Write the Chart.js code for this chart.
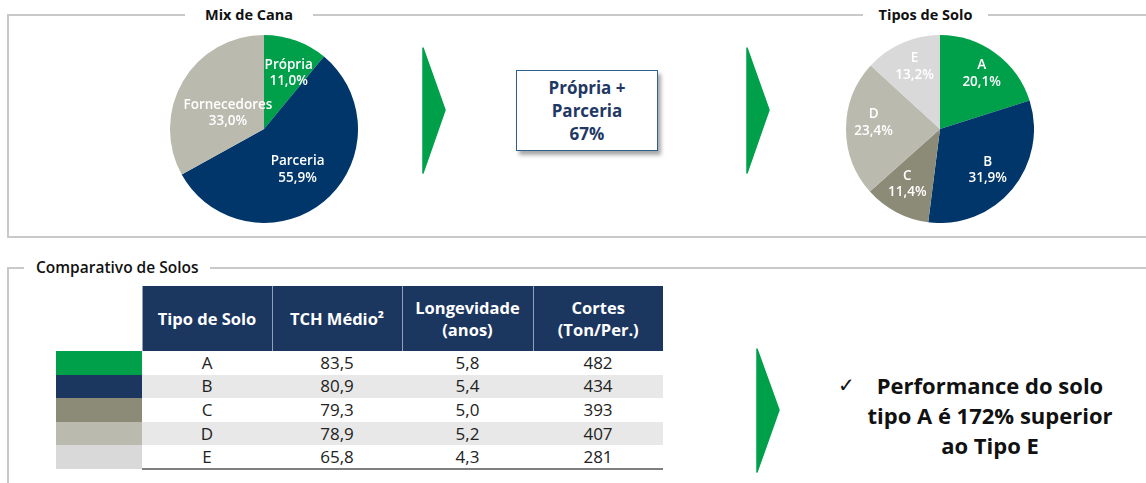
<!DOCTYPE html>
<html><head><meta charset="utf-8">
<script src="https://cdn.jsdelivr.net/npm/chart.js@4/dist/chart.umd.min.js"></script>
<style>
html,body{margin:0;padding:0}
body{width:1146px;height:483px;overflow:hidden;background:#fff;font-family:"Open Sans",sans-serif;position:relative}
.frame{position:absolute;border:2px solid #C9C9C9;box-sizing:border-box}
.ftitle{position:absolute;background:#fff;text-align:center;font-weight:bold;font-size:14.5px;color:#111;line-height:16px;white-space:nowrap}
canvas{position:absolute}
svg{position:absolute;overflow:visible}
.box{position:absolute;left:516px;top:70px;width:142px;height:81px;box-sizing:border-box;border:1.5px solid #2E5E8E;background:#fff;box-shadow:3px 4px 4px rgba(0,0,0,0.35);text-align:center;color:#1F3864;font-weight:bold;font-size:17px;line-height:23px;padding-top:5px}
table{position:absolute;left:56px;top:286px;border-collapse:collapse;table-layout:fixed}
th{background:#1B365F;color:#fff;font-weight:bold;font-size:16.5px;line-height:22px;height:65px;padding:0;text-align:center;border-left:1px solid #8fa0b8;box-sizing:border-box}
th.blank{background:#fff;border:none}
td{height:23.6px;padding:0;text-align:center;font-size:17px;color:#222;line-height:20px;box-sizing:border-box}
tr.alt td.d{background:#E8E8E8}
tr.last td.d{border-bottom:2px solid #7F7F7F}
.note{position:absolute;left:830px;top:370px;width:320px;font-weight:bold;font-size:22px;line-height:30px;color:#111;text-align:center}
</style></head>
<body>
<div class="frame" style="left:7px;top:14px;width:1160px;height:224px"></div>
<div class="ftitle" style="left:185px;top:7px;width:128px">Mix de Cana</div>
<div class="ftitle" style="left:863px;top:7px;width:125px">Tipos de Solo</div>
<div class="frame" style="left:7px;top:267px;width:1160px;height:240px"></div>
<div class="ftitle" style="left:24px;top:259px;padding:0 11px 0 12px;font-weight:600;font-size:15.5px;text-align:left">Comparativo de Solos</div>

<canvas id="mix" width="188" height="188" style="left:170px;top:35px"></canvas>
<canvas id="solo" width="188" height="188" style="left:846px;top:35px"></canvas>

<svg width="30" height="130" style="left:423px;top:48px"><polygon points="0,0 22,62 0,125" fill="#00A04B" stroke="#00A04B" stroke-width="1.5" stroke-linejoin="round"/></svg>
<svg width="30" height="130" style="left:747px;top:48px"><polygon points="0,0 22,62 0,125" fill="#00A04B" stroke="#00A04B" stroke-width="1.5" stroke-linejoin="round"/></svg>
<svg width="30" height="130" style="left:757px;top:349px"><polygon points="0,0 22,61 0,123" fill="#00A04B" stroke="#00A04B" stroke-width="1.5" stroke-linejoin="round"/></svg>

<div class="box" id="box"></div>
<table id="tbl"></table>
<div class="note" id="note"></div>

<script>
// ---- data ----
const mixLabels = ['Própria', 'Parceria', 'Fornecedores'];
const mixValues = [11.0, 55.9, 33.0];
const soloLabels = ['A', 'B', 'C', 'D', 'E'];
const soloValues = [20.1, 31.9, 11.4, 23.4, 13.2];
const tableHeaders = ['Tipo de Solo', 'TCH Médio²', 'Longevidade<br>(anos)', 'Cortes<br>(Ton/Per.)'];
const tchMedio = [83.5, 80.9, 79.3, 78.9, 65.8];
const longevidade = [5.8, 5.4, 5.0, 5.2, 4.3];
const cortes = [482, 434, 393, 407, 281];
const boxLines = ['Própria +', 'Parceria', '67%'];
const noteLines = ['Performance do solo', 'tipo A é 172% superior', 'ao Tipo E'];

// ---- styles ----
const mixColors = ['#00A04B', '#00366A', '#BBBAAE'];
const soloColors = ['#00A04B', '#00366A', '#8C8B78', '#BBBAAE', '#D9D9D9'];
const swatchColors = ['#00A04B', '#1B365F', '#8C8B78', '#BBBAAE', '#D9D9D9'];
const mixLabelPlace = {angleAdj: [4, 0, -6.5], radius: [0.65, 0.56, 0.42]};
const soloLabelPlace = {angleAdj: [0.6, 1, 3, 5.4, 1.7], radius: [0.74, 0.67, 0.68, 0.71, 0.72]};

const fmt = (v, d) => v.toFixed(d).replace('.', ',');

const labelPlugin = {
  id: 'sliceLabels',
  afterDatasetsDraw(chart) {
    const place = chart.options.plugins.sliceLabels;
    const ctx = chart.ctx;
    const meta = chart.getDatasetMeta(0);
    const ds = chart.data.datasets[0];
    ctx.save();
    ctx.fillStyle = '#fff';
    ctx.font = '600 13.5px "Open Sans", sans-serif';
    ctx.textAlign = 'center';
    ctx.textBaseline = 'middle';
    meta.data.forEach((arc, i) => {
      const p = arc.getProps(['x', 'y', 'startAngle', 'endAngle', 'outerRadius'], true);
      const a = (p.startAngle + p.endAngle) / 2 + place.angleAdj[i] * Math.PI / 180;
      const r = p.outerRadius * place.radius[i];
      const cx = p.x + Math.cos(a) * r;
      const cy = p.y + Math.sin(a) * r;
      ctx.fillText(chart.data.labels[i], cx, cy - 8);
      ctx.fillText(fmt(ds.data[i], 1) + '%', cx, cy + 8.5);
    });
    ctx.restore();
  }
};

function makePie(id, labels, values, colors, place) {
  new Chart(document.getElementById(id), {
    type: 'pie',
    data: {labels: labels, datasets: [{data: values, backgroundColor: colors, borderWidth: 0}]},
    options: {
      responsive: false, animation: false, devicePixelRatio: 1,
      layout: {padding: 0},
      plugins: {legend: {display: false}, tooltip: {enabled: false}, sliceLabels: place}
    },
    plugins: [labelPlugin]
  });
}
makePie('mix', mixLabels, mixValues, mixColors, mixLabelPlace);
makePie('solo', soloLabels, soloValues, soloColors, soloLabelPlace);

document.getElementById('box').innerHTML = boxLines.join('<br>');
document.getElementById('note').innerHTML =
  '<span style="position:absolute;left:8px;top:0;font-weight:normal;font-size:20px">✓</span>' + noteLines.join('<br>');

// table
const tbl = document.getElementById('tbl');
let html = '<colgroup><col style="width:86px"><col style="width:130px"><col style="width:130px"><col style="width:131px"><col style="width:130px"></colgroup>';
html += '<tr><th class="blank"></th>' + tableHeaders.map(h => '<th>' + h + '</th>').join('') + '</tr>';
soloLabels.forEach((s, i) => {
  const cls = (i % 2 === 1 ? 'alt' : '') + (i === soloLabels.length - 1 ? ' last' : '');
  html += '<tr class="' + cls + '"><td style="background:' + swatchColors[i] + '"></td>' +
    '<td class="d">' + s + '</td><td class="d">' + fmt(tchMedio[i], 1) + '</td><td class="d">' +
    fmt(longevidade[i], 1) + '</td><td class="d">' + cortes[i] + '</td></tr>';
});
tbl.innerHTML = html;
</script>
</body></html>
